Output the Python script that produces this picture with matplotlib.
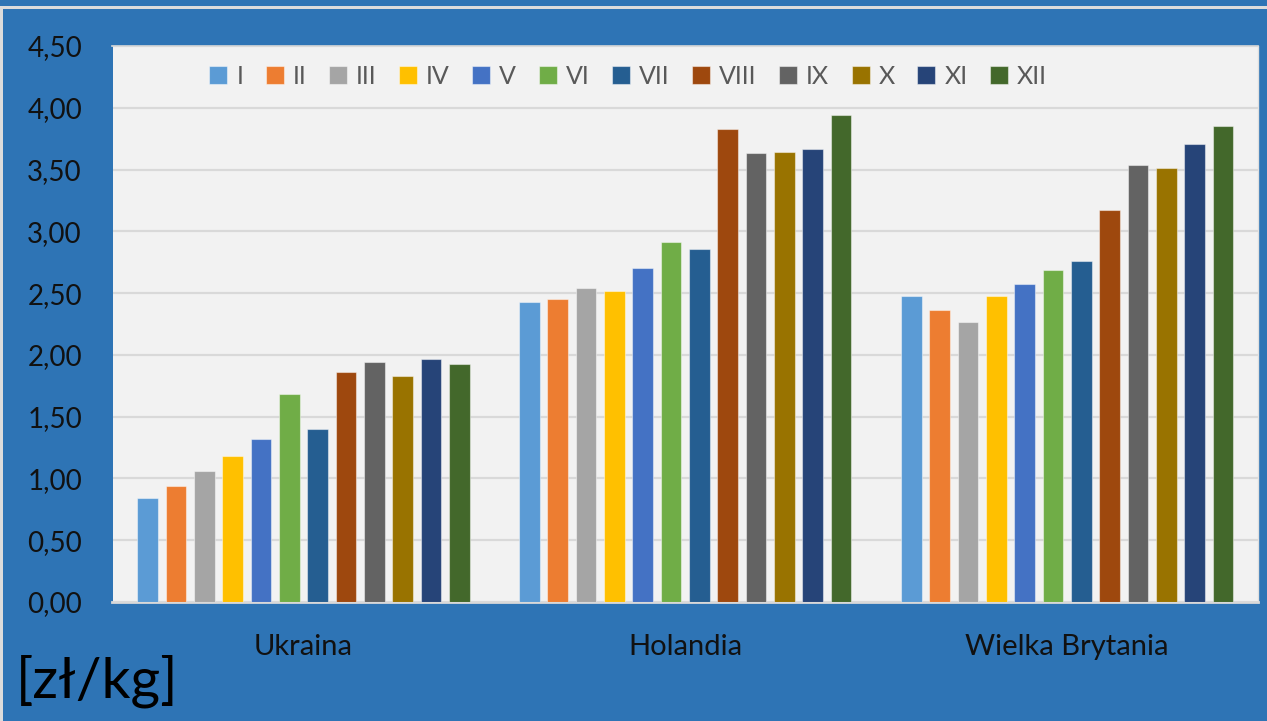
import matplotlib
matplotlib.use("Agg")
import matplotlib.pyplot as plt
import numpy as np
from matplotlib.patches import Rectangle

plt.rcParams['font.family'] = ['Lato', 'DejaVu Sans']

countries = ["Ukraina", "Holandia", "Wielka Brytania"]
months = ["I", "II", "III", "IV", "V", "VI", "VII", "VIII", "IX", "X", "XI", "XII"]
ukraina = [0.84, 0.94, 1.06, 1.18, 1.32, 1.68, 1.40, 1.86, 1.94, 1.83, 1.97, 1.93]
holandia = [2.43, 2.45, 2.54, 2.52, 2.70, 2.91, 2.86, 3.83, 3.63, 3.64, 3.67, 3.94]
wielka_brytania = [2.48, 2.36, 2.27, 2.48, 2.57, 2.69, 2.76, 3.17, 3.54, 3.51, 3.71, 3.85]
colors = ["#5B9BD5", "#ED7D31", "#A5A5A5", "#FFC000", "#4472C4", "#70AD47",
          "#255E91", "#9E480E", "#636363", "#997300", "#264478", "#43682B"]
yticks = [0.0, 0.5, 1.0, 1.5, 2.0, 2.5, 3.0, 3.5, 4.0, 4.5]
unit_label = "[zł/kg]"

BLUE = "#2E74B5"
fig = plt.figure(figsize=(12.67, 7.21), dpi=100, facecolor=BLUE)
W, H = 1267, 721
ax = fig.add_axes([112.5 / W, 1 - 602 / H, (1258 - 112.5) / W, (602 - 46) / H])
ax.set_facecolor("#F2F2F2")

data = np.array([ukraina, holandia, wielka_brytania])
x = np.arange(len(countries))
pitch = 0.0742
width = 0.0542
for i, m in enumerate(months):
    ax.bar(x + (i - 5.5) * pitch, data[:, i], width=width, color=colors[i],
           edgecolor=(1, 1, 1, 0.45), linewidth=0.8, label=m, zorder=3)

ax.set_xlim(-0.5, 2.5)
ax.set_ylim(0, 4.5)
ax.set_yticks(yticks)
ax.set_yticklabels([f"{v:.2f}".replace(".", ",") for v in yticks])
ax.set_xticks(x)
ax.set_xticklabels(countries)
ax.tick_params(axis="y", length=0, pad=22, labelsize=20, labelcolor="#111111")
ax.tick_params(axis="x", length=0, pad=23, labelsize=21, labelcolor="#111111")
ax.yaxis.grid(True, color="#D9D9D9", linewidth=1.6, zorder=0)
ax.set_axisbelow(True)
ax.spines["left"].set_visible(False)
ax.spines["bottom"].set_color("#D9D9D9")
ax.spines["bottom"].set_linewidth(2)
ax.spines["top"].set_color("#D9D9D9")
ax.spines["top"].set_linewidth(1.2)
ax.spines["right"].set_color("#E0E0E0")
ax.spines["right"].set_linewidth(1)

leg = ax.legend(ncol=12, loc="center left", bbox_to_anchor=((209.3 - 112.5) / 1145.5, (602 - 76) / 556),
                frameon=False, fontsize=18, handlelength=0.72, handleheight=0.72,
                handletextpad=0.36, columnspacing=0.9, borderpad=0, borderaxespad=0)
for t in leg.get_texts():
    t.set_color("#595959")

fig.text(16 / W, 1 - 697 / H, unit_label, fontsize=41, color="#000000",
         ha="left", va="baseline")

# frame decorations
fig.add_artist(Rectangle((0, 1 - 9 / H), 1, 3 / H, transform=fig.transFigure,
                         facecolor="#DCDCDC", edgecolor="none"))
fig.add_artist(Rectangle((0, 0), 3 / W, 1 - 9 / H, transform=fig.transFigure,
                         facecolor="#DCDCDC", edgecolor="none"))

fig.savefig("out.png", dpi=100, facecolor=BLUE)
